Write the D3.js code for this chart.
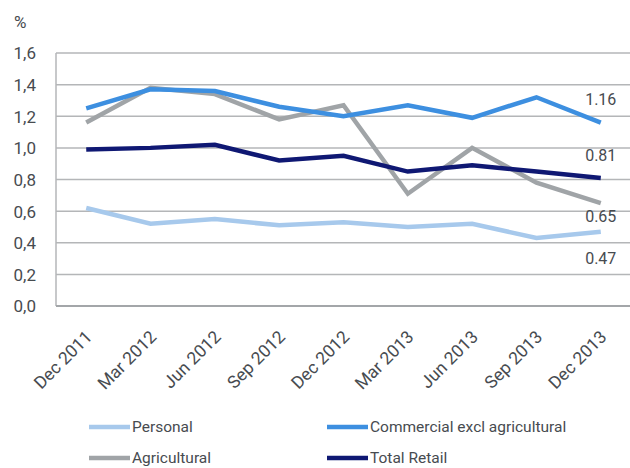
<!DOCTYPE html>
<html>
<head>
<meta charset="utf-8">
<script src="https://cdn.jsdelivr.net/npm/d3@7"></script>
<style>
  html, body { margin: 0; padding: 0; background: #fff; }
  svg { display: block; }
</style>
</head>
<body>
<div id="chart"></div>
<script>
// Loss ratios by segment, quarterly
const quarters = ['Dec 2011', 'Mar 2012', 'Jun 2012', 'Sep 2012', 'Dec 2012',
                  'Mar 2013', 'Jun 2013', 'Sep 2013', 'Dec 2013'];

const personal     = [0.62, 0.52, 0.55, 0.51, 0.53, 0.50, 0.52, 0.43, 0.47];
const commercial   = [1.25, 1.37, 1.36, 1.26, 1.20, 1.27, 1.19, 1.32, 1.16];
const agricultural = [1.16, 1.38, 1.34, 1.18, 1.27, 0.71, 1.00, 0.78, 0.65];
const totalRetail  = [0.99, 1.00, 1.02, 0.92, 0.95, 0.85, 0.89, 0.85, 0.81];

const yTicks = [0, 0.2, 0.4, 0.6, 0.8, 1.0, 1.2, 1.4, 1.6];

const FONT = "Roboto, 'Open Sans', sans-serif";
const TEXT = '#474b50';
const GRID = '#b4b6b8';

// draw order: back to front; lab = baseline offset of end label from last point, px
const SERIES = [
  { name: 'Personal',                    values: personal,     color: '#a7c9ec', lab: 32 },
  { name: 'Agricultural',                values: agricultural, color: '#a0a4a7', lab: 19 },
  { name: 'Commercial excl agricultural', values: commercial,  color: '#3d8fe0', lab: -18 },
  { name: 'Total Retail',                values: totalRetail,  color: '#0f1873', lab: -17 },
];

const W = 630, H = 468;
const plot = { left: 56, right: 631, top: 53, bottom: 306 };

const svg = d3.select('#chart').append('svg')
  .attr('width', W).attr('height', H);

const x = d3.scalePoint()
  .domain(quarters)
  .range([plot.left, plot.right])
  .padding(0.47);

const y = d3.scaleLinear()
  .domain([0, 1.6])
  .range([plot.bottom, plot.top]);

// gridlines
svg.append('g')
  .selectAll('line')
  .data(yTicks.filter(d => d > 0))
  .join('line')
  .attr('x1', plot.left).attr('x2', W)
  .attr('y1', d => y(d)).attr('y2', d => y(d))
  .attr('stroke', GRID)
  .attr('stroke-width', 1.5);

// left axis line and baseline
svg.append('line')
  .attr('x1', plot.left).attr('x2', plot.left)
  .attr('y1', plot.top).attr('y2', plot.bottom)
  .attr('stroke', GRID).attr('stroke-width', 1.5);
svg.append('line')
  .attr('x1', plot.left).attr('x2', W)
  .attr('y1', plot.bottom).attr('y2', plot.bottom)
  .attr('stroke', '#a3a6a9').attr('stroke-width', 2);

// y tick labels (comma decimal)
const fmt = d3.format('.1f');
svg.append('g')
  .selectAll('text')
  .data(yTicks)
  .join('text')
  .attr('x', 36)
  .attr('y', d => y(d))
  .attr('dy', '0.38em')
  .attr('text-anchor', 'end')
  .style('font-family', FONT)
  .style('font-size', '17px')
  .style('fill', TEXT)
  .text(d => fmt(d).replace('.', ','));

svg.append('text')
  .attr('x', 14).attr('y', 28)
  .style('font-family', FONT)
  .style('font-size', '17px')
  .style('fill', TEXT)
  .text('%');

// x tick labels, rotated
svg.append('g')
  .selectAll('text')
  .data(quarters)
  .join('text')
  .attr('transform', d => `translate(${x(d) + 7},${338}) rotate(-45)`)
  .attr('text-anchor', 'end')
  .style('font-family', FONT)
  .style('font-size', '17.5px')
  .style('fill', TEXT)
  .text(d => d);

// lines
const line = d3.line()
  .x((d, i) => x(quarters[i]))
  .y(d => y(d));

SERIES.forEach(s => {
  svg.append('path')
    .datum(s.values)
    .attr('fill', 'none')
    .attr('stroke', s.color)
    .attr('stroke-width', 4.5)
    .attr('stroke-linejoin', 'miter')
    .attr('d', line);
});

// end labels
const last = quarters.length - 1;
SERIES.forEach(s => {
  const v = s.values[last];
  svg.append('text')
    .attr('x', x(quarters[last]))
    .attr('y', y(v) + s.lab)
    .attr('text-anchor', 'middle')
    .style('font-family', FONT)
    .style('font-size', '16px')
    .style('fill', TEXT)
    .text(v.toFixed(2));
});

// legend
const legend = [
  { s: SERIES[0], col: 0, row: 0 },
  { s: SERIES[2], col: 1, row: 0 },
  { s: SERIES[1], col: 0, row: 1 },
  { s: SERIES[3], col: 1, row: 1 },
];
const legX = [89, 327], legY = [427, 458];

const lg = svg.append('g')
  .selectAll('g')
  .data(legend)
  .join('g')
  .attr('transform', d => `translate(${legX[d.col]},${legY[d.row]})`);

lg.append('line')
  .attr('x1', 0).attr('x2', 41)
  .attr('stroke', d => d.s.color)
  .attr('stroke-width', 4.5);

lg.append('text')
  .attr('x', 43)
  .attr('dy', '0.35em')
  .style('font-family', FONT)
  .style('font-size', '15.5px')
  .style('fill', TEXT)
  .text(d => d.s.name);
</script>
</body>
</html>
